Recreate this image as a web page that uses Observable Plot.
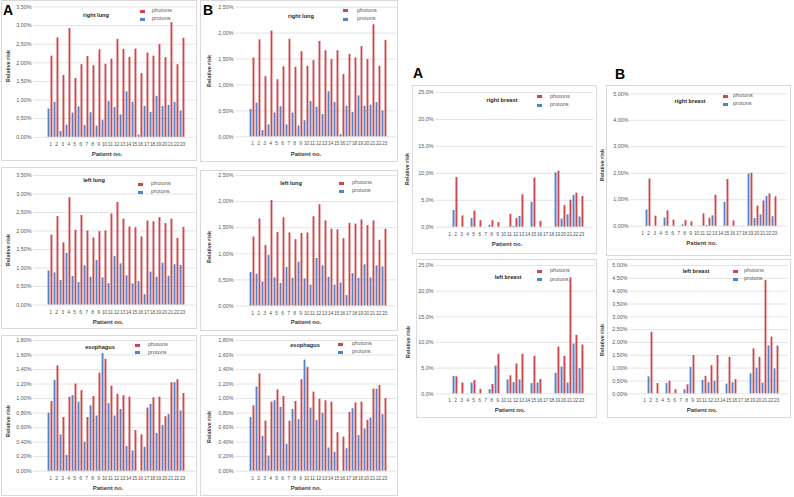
<!DOCTYPE html>
<html><head><meta charset="utf-8">
<script src="https://cdn.jsdelivr.net/npm/d3@7"></script>
<script src="https://cdn.jsdelivr.net/npm/@observablehq/plot@0.6"></script>
<style>
body{margin:0;background:#fff;}
#root{position:relative;width:794px;height:497px;overflow:hidden;background:#fff;font-family:"Liberation Sans",Arial,sans-serif;}
.abs{position:absolute;white-space:nowrap;line-height:1;}
.box{position:absolute;border:1px solid #d9d9d9;box-sizing:border-box;}
.ttl{font-weight:bold;font-size:5.6px;color:#262626;transform:translate(-50%,-50%);}
.xl{font-weight:bold;font-size:6px;color:#404040;transform:translate(-50%,-50%);}
.yl{font-weight:bold;font-size:5.4px;color:#404040;transform:translate(-50%,-50%) rotate(-90deg);}
.lt{font-size:5.6px;color:#595959;transform:translateY(-50%);}
.big{font-weight:bold;font-size:14px;color:#000;font-family:"Liberation Sans",Arial,sans-serif;}
.svgw{position:absolute;}
g[aria-label="x-axis tick label"] text{font-size:5px;letter-spacing:-0.2px;}
</style>
</head><body><div id="root"></div>
<script>
const patients = [1,2,3,4,5,6,7,8,9,10,11,12,13,14,15,16,17,18,19,20,21,22,23];
const seriesNames = ["photons","protons"];
const panelTitles = ["right lung","left lung","esophagus","right breast","left breast"];

const rightLungA_photons = [2.18,2.67,1.66,2.92,1.58,1.95,2.17,1.92,2.35,1.96,2.10,2.63,2.36,2.15,2.37,1.71,2.26,2.18,2.49,2.14,3.08,1.95,2.66];
const rightLungA_protons = [0.76,0.94,0.16,0.33,0.65,0.82,0.32,0.66,0.30,0.46,0.96,0.80,0.60,1.22,0.94,0.06,0.83,0.67,1.10,0.83,0.86,0.94,0.71];
const rightLungB_photons = [1.52,1.87,1.16,2.04,1.10,1.35,1.88,1.34,1.64,1.36,1.47,1.84,1.66,1.49,1.66,1.20,1.59,1.52,1.74,1.49,2.16,1.36,1.86];
const rightLungB_protons = [0.53,0.65,0.12,0.23,0.46,0.58,0.23,0.46,0.21,0.31,0.68,0.57,0.43,0.87,0.66,0.04,0.59,0.47,0.79,0.59,0.61,0.66,0.50];
const leftLungA_photons = [1.89,2.39,1.68,2.90,2.02,2.42,2.00,1.81,1.98,2.00,2.46,2.77,2.32,2.11,2.09,1.84,2.27,2.25,2.36,2.20,2.32,1.80,2.10];
const leftLungA_protons = [0.92,0.87,0.66,1.40,0.77,0.61,1.06,0.75,1.20,0.73,0.58,1.31,1.11,0.79,0.57,0.63,0.28,0.89,0.75,1.13,0.78,1.09,1.07];
const leftLungB_photons = [1.32,1.67,1.16,2.02,1.41,1.69,1.40,1.27,1.39,1.40,1.71,1.94,1.63,1.47,1.46,1.29,1.58,1.57,1.65,1.54,1.63,1.26,1.47];
const leftLungB_protons = [0.64,0.61,0.46,0.97,0.54,0.43,0.74,0.53,0.84,0.52,0.40,0.91,0.77,0.55,0.40,0.44,0.20,0.62,0.53,0.79,0.54,0.77,0.75];
const esophagusA_photons = [0.96,1.45,0.74,1.02,1.20,1.11,0.74,1.03,1.35,1.54,1.17,1.06,1.04,1.02,0.56,0.50,0.87,1.01,1.02,0.75,1.22,1.26,1.07];
const esophagusA_protons = [0.80,1.25,0.50,0.22,1.04,0.95,0.40,0.90,0.76,1.62,0.93,0.76,0.85,0.34,0.28,0,0.33,0.92,0.52,0.63,0.78,1.22,0.83];
const esophagusB_photons = [0.90,1.34,0.69,0.95,1.12,1.03,0.69,0.96,1.26,1.43,1.09,0.99,0.97,0.95,0.53,0.47,0.81,0.94,0.95,0.70,1.13,1.18,1.00];
const esophagusB_protons = [0.74,1.16,0.48,0.21,0.97,0.88,0.37,0.85,0.71,1.53,0.87,0.70,0.80,0.32,0.26,0,0.31,0.86,0.49,0.58,0.73,1.13,0.78];
const rightBreastA_photons = [0,9.2,2.1,0,3.0,1.2,0,1.2,0.85,0,2.4,1.6,6.0,0,9.1,1.1,0,0,10.4,4.0,5.0,6.3,5.7];
const rightBreastA_protons = [0,3.1,0,0,1.6,0,0,0.35,0,0,0.05,0.15,2.0,0,4.6,0,0,0,10.1,1.5,2.3,5.9,1.9];
const rightBreastB_photons = [0,1.78,0.38,0,0.58,0.23,0,0.22,0.16,0,0.47,0.30,1.17,0,1.76,0.20,0,0,2.00,0.76,0.95,1.22,1.11];
const rightBreastB_protons = [0,0.61,0,0,0.31,0,0,0.05,0,0,0.01,0.03,0.39,0,0.90,0,0,0,1.97,0.29,0.43,1.12,0.36];
const leftBreastA_photons = [0,3.3,2.1,0,2.6,0.85,0,1.8,7.7,0,3.5,5.8,7.7,0,7.3,2.8,0,0,9.1,7.3,22.6,11.4,9.5];
const leftBreastA_protons = [0,3.4,0,0,2.1,0.05,0,0.8,5.4,0,2.7,2.2,2.7,0,2.0,2.1,0,0,4.0,5.2,2.1,9.7,4.9];
const leftBreastB_photons = [0,2.40,0.40,0,0.49,0.16,0,0.35,1.49,0,0.68,1.10,1.49,0,1.42,0.55,0,0,1.75,1.42,4.42,2.21,1.86];
const leftBreastB_protons = [0,0.66,0,0,0.40,0.01,0,0.16,1.03,0,0.52,0.43,0.49,0,0.38,0.43,0,0,0.78,1.00,0.42,1.87,0.97];

const ticksLungA = [0,0.5,1,1.5,2,2.5,3,3.5];
const ticksLungB = [0,0.5,1,1.5,2,2.5];
const ticksEso = [0,0.2,0.4,0.6,0.8,1.0,1.2,1.4,1.6,1.8];
const ticksBreastA = [0,5,10,15,20,25];
const ticksRightBreastB = [0,1,2,3,4,5];
const ticksLeftBreastB = [0,0.5,1,1.5,2,2.5,3,3.5,4,4.5,5];

const RED = "#d2454a", BLUE = "#4f83cc", GRID = "#dcdcdc";
const fmt2 = v => d3.format(".2f")(v).replace(".", ",") + "%";
const fmt1 = v => d3.format(".1f")(v).replace(".", ",") + "%";

const root = document.getElementById("root");
function el(cls, txt, x, y, extra) {
  const d = document.createElement("div");
  d.className = "abs " + cls;
  d.textContent = txt;
  d.style.left = x + "px"; d.style.top = y + "px";
  if (extra) Object.assign(d.style, extra);
  root.appendChild(d);
  return d;
}
function box(x, y, w, h) {
  const d = document.createElement("div");
  d.className = "box";
  Object.assign(d.style, {left: x + "px", top: y + "px", width: w + "px", height: h + "px"});
  root.appendChild(d);
}

// layout (page pixels)
const panels = [
  {ph: rightLungA_photons, pr: rightLungA_protons, ticks: ticksLungA, fmt: fmt2, title: panelTitles[0],
   left: 0, top: 0, w: 198, h: 161, gridL: 33, gridR: 195, yTop: 6.5, yZero: 136.8, x1: 41.7, x23: 190,
   box: [1, 0, 196, 161], tx: 96, ty: 16, lx: 140, ltx: 152, ly: [11, 19], xlx: 107, xly: 153.5, ylx: 8.5, yly: 66},
  {ph: leftLungA_photons, pr: leftLungA_protons, ticks: ticksLungA, fmt: fmt2, title: panelTitles[1],
   left: 0, top: 167, w: 198, h: 162, gridL: 33, gridR: 195, yTop: 175, yZero: 304.5, x1: 41.7, x23: 190,
   box: [1, 167, 196, 162], tx: 94, ty: 181, lx: 138, ltx: 151, ly: [184, 192], xlx: 108, xly: 321.5, ylx: 8.5, yly: 250},
  {ph: esophagusA_photons, pr: esophagusA_protons, ticks: ticksEso, fmt: fmt2, title: panelTitles[2],
   left: 0, top: 335, w: 198, h: 160, gridL: 33, gridR: 195, yTop: 340, yZero: 470.7, x1: 41.7, x23: 190,
   box: [1, 335, 196, 161], tx: 100, ty: 348, lx: 135, ltx: 148, ly: [345, 352.5], xlx: 108, xly: 488, ylx: 8.5, yly: 421},
  {ph: rightLungB_photons, pr: rightLungB_protons, ticks: ticksLungB, fmt: fmt2, title: panelTitles[0],
   left: 200, top: 0, w: 198, h: 161, gridL: 235, gridR: 396.5, yTop: 6.7, yZero: 136.3, x1: 243.3, x23: 392.7,
   box: [200, 0, 198, 162], tx: 301, ty: 17, lx: 343, ltx: 357, ly: [10.5, 19], xlx: 306, xly: 154, ylx: 210, yly: 71},
  {ph: leftLungB_photons, pr: leftLungB_protons, ticks: ticksLungB, fmt: fmt2, title: panelTitles[1],
   left: 200, top: 167, w: 198, h: 162, gridL: 235, gridR: 396.5, yTop: 175, yZero: 305.5, x1: 243.3, x23: 392.7,
   box: [200, 170, 198, 161], tx: 291, ty: 184, lx: 339, ltx: 352, ly: [183, 191], xlx: 306, xly: 321.7, ylx: 210, yly: 247},
  {ph: esophagusB_photons, pr: esophagusB_protons, ticks: ticksEso, fmt: fmt2, title: panelTitles[2],
   left: 200, top: 335, w: 198, h: 160, gridL: 235, gridR: 396.5, yTop: 340, yZero: 470.7, x1: 243.3, x23: 392.7,
   box: [200, 335, 198, 161], tx: 305, ty: 346, lx: 338, ltx: 352, ly: [344, 352], xlx: 306, xly: 488, ylx: 210, yly: 427},
  {ph: rightBreastA_photons, pr: rightBreastA_protons, ticks: ticksBreastA, fmt: fmt1, title: panelTitles[3],
   left: 412, top: 85, w: 186, h: 170, gridL: 435, gridR: 593, yTop: 92, yZero: 226.7, x1: 441.7, x23: 589,
   box: [412, 85, 185, 169], tx: 502, ty: 100.7, lx: 537, ltx: 550, ly: [96.7, 105], xlx: 507, xly: 243.7, ylx: 408, yly: 169},
  {ph: rightBreastB_photons, pr: rightBreastB_protons, ticks: ticksRightBreastB, fmt: fmt2, title: panelTitles[3],
   left: 606, top: 85, w: 186, h: 170, gridL: 630, gridR: 787, yTop: 93.3, yZero: 225.7, x1: 633.3, x23: 783.3,
   box: [606, 85, 185, 171], tx: 690, ty: 101.7, lx: 723, ltx: 733, ly: [96, 104.3], xlx: 701.7, xly: 243.3, ylx: 602.7, yly: 165},
  {ph: leftBreastA_photons, pr: leftBreastA_protons, ticks: ticksBreastA, fmt: fmt1, title: panelTitles[4],
   left: 412, top: 259, w: 186, h: 160, gridL: 435, gridR: 595, yTop: 265, yZero: 393.3, x1: 441.7, x23: 588.3,
   box: [416, 259, 181, 159], tx: 508, ty: 277.7, lx: 537, ltx: 550, ly: [271, 279.7], xlx: 510, xly: 410, ylx: 409, yly: 341.7},
  {ph: leftBreastB_photons, pr: leftBreastB_protons, ticks: ticksLeftBreastB, fmt: fmt2, title: panelTitles[4],
   left: 606, top: 259, w: 186, h: 160, gridL: 629, gridR: 788, yTop: 265, yZero: 393.3, x1: 634, x23: 785,
   box: [607, 259, 184, 159], tx: 696, ty: 271.7, lx: 733, ltx: 744, ly: [271, 279.3], xlx: 702, xly: 410, ylx: 602.7, yly: 340}
];

panels.forEach(p => box(...p.box));

panels.forEach(p => {
  const protons = patients.map((pt, i) => ({patient: pt, series: seriesNames[1], value: p.pr[i]}));
  const photons = patients.map((pt, i) => ({patient: pt, series: seriesNames[0], value: p.ph[i]}));
  const step = (p.x23 - p.x1) / 22;
  const r0 = p.x1 - step / 2 - p.left, r1 = p.x23 + step / 2 - p.left;
  const half = step / 2;
  const ymax = p.ticks[p.ticks.length - 1];
  const chart = Plot.plot({
    width: p.w, height: p.h,
    marginLeft: p.gridL - p.left, marginRight: p.left + p.w - p.gridR,
    marginTop: p.yTop - p.top, marginBottom: p.top + p.h - p.yZero,
    style: {fontFamily: "Liberation Sans, Arial, sans-serif", fontSize: "5.4px", color: "#595959", background: "transparent", overflow: "visible"},
    x: {type: "band", domain: patients, range: [r0, r1], padding: 0, label: null, tickSize: 0, tickPadding: 5},
    y: {domain: [0, ymax], ticks: p.ticks, tickFormat: p.fmt, tickSize: 0, tickPadding: 2, label: null},
    marks: [
      Plot.ruleY(p.ticks, {stroke: GRID, strokeWidth: 0.8}),
      Plot.barY(protons, {x: "patient", y: "value", fill: BLUE, insetLeft: 0.6, insetRight: half + 0.15}),
      Plot.barY(photons, {x: "patient", y: "value", fill: RED, insetLeft: half + 0.15, insetRight: 0.6})
    ]
  });
  const wrap = document.createElement("div");
  wrap.className = "svgw";
  wrap.style.left = p.left + "px"; wrap.style.top = p.top + "px";
  wrap.appendChild(chart);
  root.appendChild(wrap);

  el("ttl", p.title, p.tx, p.ty);
  el("xl", "Patient no.", p.xlx, p.xly);
  el("yl", "Relative risk", p.ylx, p.yly);
  el("", "", p.lx, p.ly[0] - 1.5, {width: "4.5px", height: "3px", background: RED});
  el("", "", p.lx, p.ly[1] - 1.5, {width: "4.5px", height: "3px", background: BLUE});
  el("lt", seriesNames[0], p.ltx, p.ly[0]);
  el("lt", seriesNames[1], p.ltx, p.ly[1]);
});

el("big", "A", 3, 3);
el("big", "B", 203, 3);
el("big", "A", 413, 66);
el("big", "B", 615, 67);
</script>
</body></html>
